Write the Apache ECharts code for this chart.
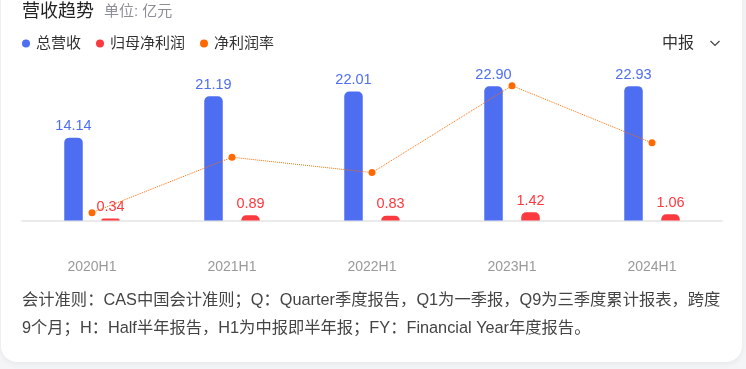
<!DOCTYPE html>
<html><head><meta charset="utf-8">
<script src="https://cdn.jsdelivr.net/npm/echarts@6/dist/echarts.min.js"></script>
<style>
html,body{margin:0;padding:0;background:#f4f5f7;width:746px;height:369px;overflow:hidden;}
#card{position:absolute;left:1px;top:-20px;width:741px;height:382px;background:#fff;border-radius:16px;box-shadow:0 2px 6px rgba(0,0,0,0.06);}
#chart{position:absolute;left:0;top:0;width:746px;height:369px;}
</style></head><body>
<div id="card"></div><div id="chart"></div>
<script>
const categories = ['2020H1', '2021H1', '2022H1', '2023H1', '2024H1'];
const revenue = [14.14, 21.19, 22.01, 22.90, 22.93];
const netProfit = [0.34, 0.89, 0.83, 1.42, 1.06];
const netMargin = [2.40, 4.06, 3.60, 6.20, 4.49];
const seriesNames = ['总营收', '归母净利润', '净利润率'];
const titleText = '营收趋势';
const unitText = '单位: 亿元';
const periodText = '中报';
const noteLines = [
  '会计准则：CAS中国会计准则；Q：Quarter季度报告，Q1为一季报，Q9为三季度累计报表，跨度',
  '9个月；H：Half半年报告，H1为中报即半年报；FY：Financial Year年度报告。'
];

const FF = "'Liberation Sans','Noto Sans CJK SC',sans-serif";
const BLUE = '#4e6ef2', RED = '#fa3a3f', ORANGE = '#ff6a00';

const chart = echarts.init(document.getElementById('chart'), null, {renderer: 'canvas'});
chart.setOption({
  animation: false,
  textStyle: {fontFamily: FF},
  title: {
    left: 22, top: 3, padding: 0,
    text: '{a|' + titleText + '}  {b|' + unitText + '}',
    textStyle: {
      fontWeight: 'normal',
      rich: {
        a: {fontSize: 18, color: '#222', fontFamily: FF, fontWeight: 'normal'},
        b: {fontSize: 15, color: '#8c8f96', fontFamily: FF, fontWeight: 'normal'}
      }
    }
  },
  legend: {
    left: 22, top: 36, padding: 0,
    icon: 'circle', itemWidth: 8, itemHeight: 8, itemGap: 15,
    data: seriesNames,
    textStyle: {fontSize: 15, color: '#333', fontFamily: FF, padding: [0, 0, 0, 1]}
  },
  grid: {left: 22, right: 24, top: 74, bottom: 148.5, containLabel: false},
  xAxis: {
    type: 'category', data: categories, boundaryGap: true,
    axisTick: {show: false},
    axisLine: {show: true, lineStyle: {color: '#e3e3e3', width: 1.5}},
    axisLabel: {margin: 40, fontSize: 14, color: '#999', fontFamily: FF}
  },
  yAxis: [
    {type: 'value', min: 0, max: 25, show: false, splitLine: {show: false}},
    {type: 'value', min: 2.167, max: 6.55, show: false, splitLine: {show: false}}
  ],
  series: [
    {
      name: seriesNames[0], type: 'bar', data: revenue, barWidth: 18.5, barGap: '100%',
      itemStyle: {color: BLUE, borderRadius: [5, 5, 0, 0]},
      label: {show: true, position: 'top', distance: 4, fontSize: 14.5, color: BLUE, fontFamily: FF,
        formatter: p => p.value.toFixed(2)}
    },
    {
      name: seriesNames[1], type: 'bar', data: netProfit, barWidth: 18.5,
      itemStyle: {color: RED, borderRadius: [5, 5, 0, 0]},
      label: {show: true, position: 'top', distance: 4, fontSize: 14.5, color: RED, fontFamily: FF,
        formatter: p => p.value.toFixed(2)}
    },
    {
      name: seriesNames[2], type: 'line', yAxisIndex: 1, data: netMargin,
      symbol: 'circle', symbolSize: 7, z: 5,
      itemStyle: {color: ORANGE},
      lineStyle: {color: ORANGE, width: 1, type: 'dotted'}
    }
  ],
  graphic: [
    {type: 'text', left: 662, top: 36, style: {text: periodText, fontSize: 16, fill: '#333', fontFamily: FF}},
    {type: 'polyline', shape: {points: [[710.5, 41], [715, 45.5], [719.5, 41]]}, style: {stroke: '#444', lineWidth: 1.2, fill: null}},
    {type: 'text', left: 22, top: 287, style: {text: noteLines.join('\n'), fontSize: 16.3, lineHeight: 28, fill: '#444', fontFamily: FF}}
  ]
});
</script>
</body></html>
